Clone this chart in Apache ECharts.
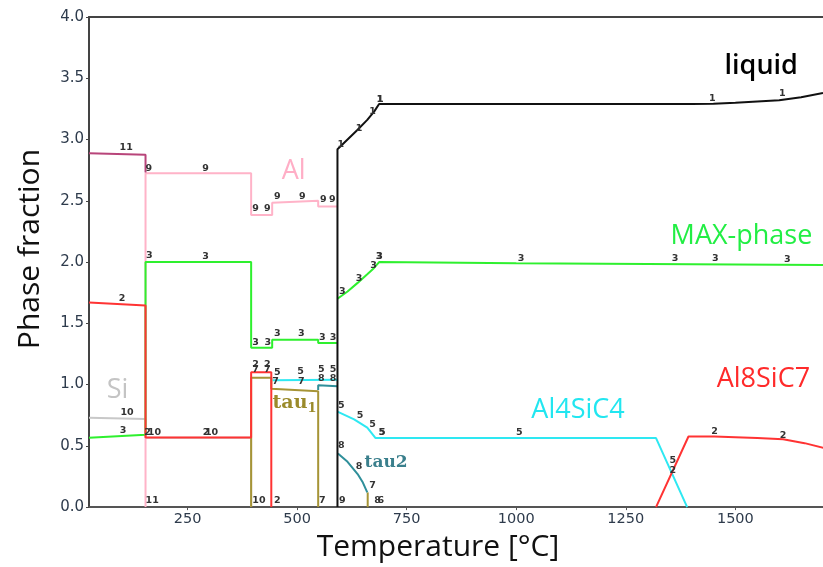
<!DOCTYPE html>
<html>
<head>
<meta charset="utf-8">
<script src="https://cdn.jsdelivr.net/npm/echarts@6/dist/echarts.min.js"></script>
<style>
  html, body { margin: 0; padding: 0; background: #fff; }
  #chart { width: 823px; height: 567px; }
</style>
</head>
<body>
<div id="chart"></div>
<script>
// ---- Phase fractions vs temperature (°C) ----
// Each phase is drawn as one or more polyline segments: T values and fractions.

// 1: liquid
const liquidT = [592, 592, 615, 638, 660, 676, 687, 1000, 1300, 1400, 1450, 1500, 1550, 1600, 1650, 1700];
const liquidV = [0, 2.92, 3.0, 3.08, 3.16, 3.23, 3.29, 3.29, 3.29, 3.29, 3.292, 3.30, 3.31, 3.32, 3.345, 3.38];

// 3: MAX-phase
const maxLowT = [25, 154, 154, 395, 395, 443, 443, 548, 548, 592];
const maxLowV = [0.565, 0.59, 2.0, 2.0, 1.30, 1.30, 1.366, 1.366, 1.34, 1.34];
const maxHighT = [592, 615, 638, 660, 675, 687, 1000, 1300, 1500, 1700];
const maxHighV = [1.70, 1.76, 1.83, 1.90, 1.95, 2.0, 1.99, 1.985, 1.98, 1.975];

// 9: Al
const alT = [154, 154, 395, 395, 443, 443, 548, 548, 592];
const alV = [0, 2.724, 2.724, 2.385, 2.385, 2.483, 2.50, 2.453, 2.453];

// 11
const p11T = [25, 154, 154];
const p11V = [2.888, 2.875, 2.73];

// 10: Si
const siT = [25, 154, 154, 395, 395];
const siV = [0.73, 0.72, 0.565, 0.565, 0];

// 2: Al8SiC7
const redLowT = [25, 154, 154, 395, 395, 441, 441];
const redLowV = [1.67, 1.645, 0.568, 0.568, 1.10, 1.10, 0];
const redHighT = [1319, 1393, 1452, 1500, 1550, 1609, 1658, 1703];
const redHighV = [0, 0.576, 0.576, 0.57, 0.563, 0.554, 0.522, 0.481];

// 5: Al4SiC4
const cyanLowT = [444, 592];
const cyanLowV = [1.036, 1.04];
const cyanHighT = [592, 630, 660, 679, 1000, 1319, 1390];
const cyanHighV = [0.779, 0.716, 0.649, 0.563, 0.563, 0.563, 0];

// 7: tau1
const tau1T = [395, 395, 441, 441, 548, 548];
const tau1V = [0, 1.055, 1.055, 0.965, 0.945, 0];
const tau1bT = [661, 661];
const tau1bV = [0.12, 0];

// 8: tau2
const tau2aT = [548, 548, 592];
const tau2aV = [0.955, 0.995, 0.987];
const tau2bT = [593, 615, 638, 650, 660];
const tau2bV = [0.438, 0.37, 0.27, 0.20, 0.12];

// Phase index tags along the curves: [T, fraction]
const tags1 = [[599.4, 2.961], [641.2, 3.089], [671.8, 3.232], [688.5, 3.327], [689.5, 3.327], [1447.2, 3.335], [1607, 3.375]];
const tags2 = [[100.5, 1.704], [158.4, 0.609], [292, 0.609], [405.2, 1.163], [431.9, 1.163], [454.8, 0.057], [1357.4, 0.298], [1452.5, 0.617], [1608.8, 0.582]];
const tags3 = [[102.8, 0.622], [162.9, 2.055], [290.9, 2.047], [405.2, 1.347], [433.3, 1.347], [454.8, 1.414], [509.6, 1.414], [557.6, 1.387], [581.8, 1.387], [603.3, 1.758], [641.2, 1.866], [674.1, 1.974], [686.9, 2.042], [687.9, 2.042], [1010.7, 2.032], [1362.6, 2.032], [1454.1, 2.032], [1618.6, 2.024]];
const tags5 = [[454.8, 1.095], [508, 1.109], [555.3, 1.122], [581.8, 1.122], [601, 0.825], [643.5, 0.744], [671.8, 0.671], [693.1, 0.609], [694.1, 0.609], [1006.9, 0.609], [1357.4, 0.379]];
const tags7 = [[405.2, 1.122], [431.9, 1.122], [450.9, 1.028], [509.6, 1.028], [557.6, 0.057], [671.8, 0.176]];
const tags8 = [[555.3, 1.049], [581.8, 1.049], [601, 0.501], [641.2, 0.330], [683.3, 0.057]];
const tags9 = [[161.3, 2.767], [290.9, 2.767], [405.2, 2.434], [431.9, 2.434], [454.8, 2.534], [511.9, 2.534], [559.9, 2.510], [580.4, 2.510], [603.3, 0.057]];
const tags10 = [[112, 0.771], [174.4, 0.609], [304.6, 0.609], [412.7, 0.057]];
const tags11 = [[109.8, 2.935], [169.1, 0.057]];
const tags6 = [[690.8, 0.057]];

// Phase names: [T, fraction]
const nameLiquid = [1559, 3.594];
const nameAl = [492, 2.742];
const nameMax = [1514, 2.207];
const nameSi = [90, 0.95];
const nameAl4 = [1141, 0.787];
const nameAl8 = [1564, 1.047];
const nameTau1 = [494, 0.85];
const nameTau2 = [703, 0.365];

// x axis tick labels
const xTicks = [250, 500, 750, 1000, 1250, 1500];

const C = {
  liquid: '#111111', max: '#2ef02e', al: '#ffb3c8', p11: '#b8457a', si: '#c8c8c8',
  red: '#ff3333', cyan: '#2ee8f2', tau1: '#a69436', tau2: '#2f8f9a'
};

function pairs(ts, vs) { return ts.map((t, i) => [t, vs[i]]); }

function curve(name, ts, vs, color, z) {
  return {
    name: name, type: 'line', data: pairs(ts, vs), symbol: 'none', z: z,
    lineStyle: { color: color, width: 2 }, itemStyle: { color: color },
    silent: true, animation: false
  };
}

function tagSeries(text, pts) {
  return {
    type: 'scatter', data: pts, symbolSize: 0, z: 20, silent: true, animation: false,
    itemStyle: { opacity: 1 },
    label: {
      show: true, position: 'inside', formatter: text, opacity: 1,
      fontFamily: 'DejaVu Sans', fontSize: 9.5, fontWeight: 'bold', color: '#333333'
    }
  };
}

function nameSeries(pt, text, color, opts) {
  return {
    type: 'scatter', data: [pt], symbolSize: 0, z: 21, silent: true, animation: false,
    itemStyle: { opacity: 1 },
    label: Object.assign({
      show: true, position: 'inside', formatter: text, opacity: 1,
      fontFamily: 'Open Sans', fontSize: 27, color: color
    }, opts || {})
  };
}

const chart = echarts.init(document.getElementById('chart'), null, { renderer: 'canvas' });

chart.setOption({
  backgroundColor: '#ffffff',
  animation: false,
  grid: { left: 89, right: 0, top: 17, bottom: 57 },
  xAxis: [{
    type: 'value', min: 25, max: 1700,
    name: 'Temperature [°C]', nameLocation: 'middle', nameGap: 22,
    nameTextStyle: { fontFamily: 'Open Sans', fontSize: 30, color: '#111', padding: [0, 36, 0, 0] },
    axisLine: { show: true, lineStyle: { color: '#555', width: 2 } },
    axisTick: { show: true, length: 3, customValues: xTicks, lineStyle: { color: '#555' } },
    axisLabel: { customValues: xTicks, margin: 5, fontFamily: 'DejaVu Sans', fontSize: 14.5, color: '#2e3b4c', formatter: v => String(v) },
    splitLine: { show: false }
  }, {
    type: 'value', min: 25, max: 1700, position: 'top',
    axisLine: { show: true, onZero: false, lineStyle: { color: '#444', width: 2 } },
    axisTick: { show: false }, axisLabel: { show: false }, splitLine: { show: false }
  }],
  yAxis: {
    type: 'value', min: 0, max: 4, interval: 0.5,
    name: 'Phase fraction', nameLocation: 'middle', nameGap: 44,
    nameTextStyle: { fontFamily: 'Open Sans', fontSize: 30, color: '#111', padding: [0, 0, 0, 26] },
    axisLine: { show: true, lineStyle: { color: '#444', width: 2 } },
    axisTick: { show: true, length: 3, lineStyle: { color: '#444' } },
    axisLabel: { margin: 5, fontFamily: 'DejaVu Sans', fontSize: 15, color: '#2e3b4c', formatter: v => v.toFixed(1) },
    splitLine: { show: false }
  },
  series: [
    curve('Si', siT, siV, C.si, 2),
    curve('Al', alT, alV, C.al, 3),
    curve('11', p11T, p11V, C.p11, 4),
    curve('MAX-phase', maxLowT, maxLowV, C.max, 5),
    curve('MAX-phase', maxHighT, maxHighV, C.max, 5),
    curve('Al4SiC4', cyanLowT, cyanLowV, C.cyan, 6),
    curve('Al4SiC4', cyanHighT, cyanHighV, C.cyan, 6),
    curve('tau1', tau1T, tau1V, C.tau1, 7),
    curve('tau1', tau1bT, tau1bV, C.tau1, 7),
    curve('tau2', tau2aT, tau2aV, C.tau2, 8),
    curve('tau2', tau2bT, tau2bV, C.tau2, 8),
    curve('Al8SiC7', redLowT, redLowV, C.red, 9),
    curve('Al8SiC7', redHighT, redHighV, C.red, 9),
    curve('liquid', liquidT, liquidV, C.liquid, 10),

    tagSeries('1', tags1), tagSeries('2', tags2), tagSeries('3', tags3),
    tagSeries('5', tags5), tagSeries('6', tags6), tagSeries('7', tags7), tagSeries('8', tags8),
    tagSeries('9', tags9), tagSeries('10', tags10), tagSeries('11', tags11),

    nameSeries(nameLiquid, 'liquid', '#000000', { fontWeight: 600 }),
    nameSeries(nameAl, 'Al', '#ffaec6'),
    nameSeries(nameMax, 'MAX-phase', '#22ee44'),
    nameSeries(nameSi, 'Si', '#c4c4c4'),
    nameSeries(nameAl4, 'Al4SiC4', '#22e6f0'),
    nameSeries(nameAl8, 'Al8SiC7', '#ff2a2a'),
    nameSeries(nameTau1, '{t|tau}{s|1}', '#9a8a2a', {
      rich: {
        t: { fontFamily: 'DejaVu Serif', fontWeight: 'bold', fontSize: 19, color: '#9a8a2a' },
        s: { fontFamily: 'DejaVu Serif', fontWeight: 'bold', fontSize: 13, color: '#9a8a2a', padding: [12, 0, 0, 0] }
      }
    }),
    nameSeries(nameTau2, 'tau2', '#3a7f8c', { fontFamily: 'DejaVu Serif', fontWeight: 'bold', fontSize: 17 })
  ]
});
</script>
</body>
</html>
